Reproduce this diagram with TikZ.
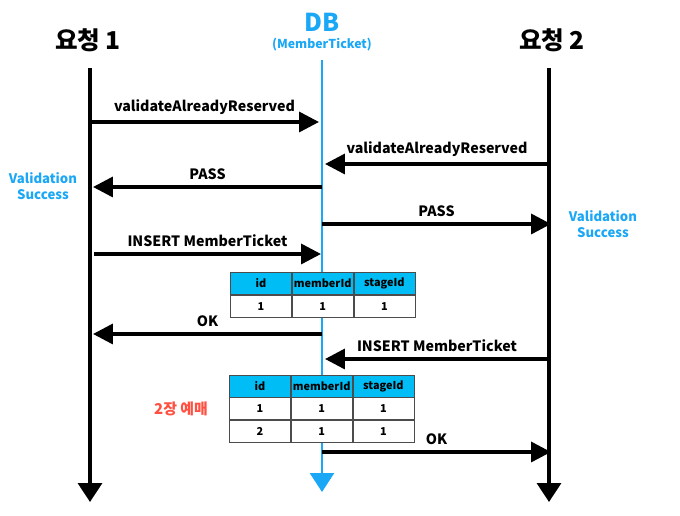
\documentclass[tikz,border=0pt]{standalone}
\usepackage{fontspec}
\setmainfont{Noto Sans CJK KR}
\usepackage{xcolor}
\usepackage{tikz}
\usetikzlibrary{arrows.meta,positioning}

\definecolor{dbblue}{HTML}{1AA7F5}
\definecolor{headcyan}{HTML}{00BEF5}
\definecolor{bookred}{HTML}{FF5041}

\begin{document}
\begin{tikzpicture}[
    x=0.02cm, y=-0.02cm,
    title/.style={font=\bfseries\fontsize{14}{16}\selectfont},
    msg/.style={font=\bfseries\fontsize{8.1}{9}\selectfont},
    okmark/.style={font=\bfseries\fontsize{7.5}{9}\selectfont, text=dbblue, align=center},
    life/.style={line width=2pt, -{Triangle[length=3.8mm,width=4.8mm]}},
    call/.style={line width=2pt, -{Triangle[length=4mm,width=4mm]}},
    cell/.style={draw=black!70, fill=white, minimum width=1.22cm, minimum height=0.44cm, inner sep=0pt, font=\bfseries\fontsize{6.2}{7}\selectfont},
    head/.style={cell, fill=headcyan}
]
\useasboundingbox (0,0) rectangle (680,516);

% participants
\node[title] (r1) at (88,40) {요청 1};
\node[title, text=dbblue] (db) at (322,22) {DB};
\node[font=\bfseries\fontsize{7}{8}\selectfont, text=dbblue] (dbsub) at (322,45) {(MemberTicket)};
\node[title] (r2) at (552,40) {요청 2};

% lifelines
\coordinate (l1top) at (90,68);  \coordinate (l1end) at (90,502);
\coordinate (dbtop) at (322,60); \coordinate (dbend) at (322,492);
\coordinate (l2top) at (549,68); \coordinate (l2end) at (549,502);
\draw[life] (l1top) -- (l1end);
\draw[life, dbblue, line width=1.5pt] (dbtop) -- (dbend);
\draw[life] (l2top) -- (l2end);

% messages
\coordinate (a1s) at (90,122);  \coordinate (a1e) at (319,122);
\draw[call] (a1s) -- (a1e) node[msg, midway, above=0pt] (m1) {validateAlreadyReserved};
\coordinate (a2s) at (549,164); \coordinate (a2e) at (325,164);
\draw[call] (a2s) -- (a2e) node[msg, midway, above=0pt] (m2) {validateAlreadyReserved};
\coordinate (a3s) at (322,187); \coordinate (a3e) at (93,187);
\draw[call] (a3s) -- (a3e) node[msg, midway, above=0pt] (m3) {PASS};
\node[okmark] (ok1) at (43,186) {Validation\\Success};
\coordinate (a4s) at (322,224); \coordinate (a4e) at (551,224);
\draw[call] (a4s) -- (a4e) node[msg, midway, above=0pt] (m4) {PASS};
\node[okmark] (ok2) at (603,224) {Validation\\Success};
\coordinate (a5s) at (94,254);  \coordinate (a5e) at (321,254);
\draw[call] (a5s) -- (a5e) node[msg, midway, above=0pt] (m5) {INSERT MemberTicket};

% table after first insert
\node[head] (t1h1) at (261,283.5) {id};
\node[head, right=0cm of t1h1] (t1h2) {memberId};
\node[head, right=0cm of t1h2] (t1h3) {stageId};
\node[cell, below=0cm of t1h1] (t1a1) {1};
\node[cell, below=0cm of t1h2] (t1a2) {1};
\node[cell, below=0cm of t1h3] (t1a3) {1};

\coordinate (a6s) at (322,334); \coordinate (a6e) at (93,334);
\draw[call] (a6s) -- (a6e) node[msg, midway, above=0pt] (m6) {OK};
\coordinate (a7s) at (549,359); \coordinate (a7e) at (325,359);
\draw[call] (a7s) -- (a7e) node[msg, midway, above=0pt] (m7) {INSERT MemberTicket};

% table after second insert
\node[head] (t2h1) at (260,386) {id};
\node[head, right=0cm of t2h1] (t2h2) {memberId};
\node[head, right=0cm of t2h2] (t2h3) {stageId};
\node[cell, below=0cm of t2h1] (t2a1) {1};
\node[cell, below=0cm of t2h2] (t2a2) {1};
\node[cell, below=0cm of t2h3] (t2a3) {1};
\node[cell, below=0cm of t2a1] (t2b1) {2};
\node[cell, below=0cm of t2a2] (t2b2) {1};
\node[cell, below=0cm of t2a3] (t2b3) {1};
\node[font=\bfseries\fontsize{8.5}{10}\selectfont, text=bookred, left=0.3cm of t2a1] (twice) {2장 예매};

\coordinate (a8s) at (322,452); \coordinate (a8e) at (551,452);
\draw[call] (a8s) -- (a8e) node[msg, midway, above=0pt] (m8) {OK};
\end{tikzpicture}
\end{document}
